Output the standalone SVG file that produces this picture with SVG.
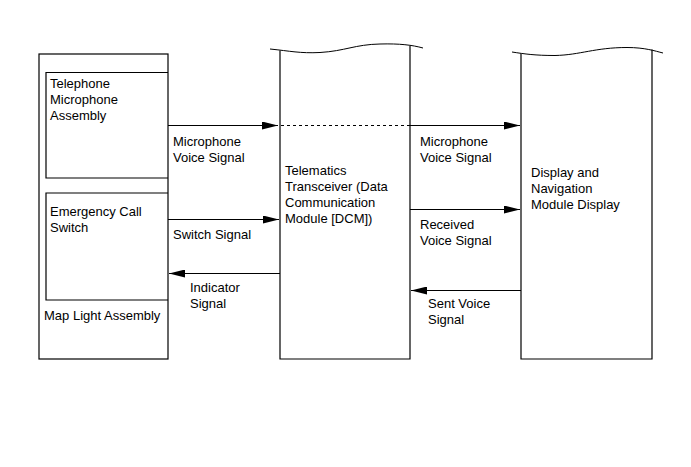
<svg xmlns="http://www.w3.org/2000/svg" width="691" height="467" viewBox="0 0 691 467">
<style>
.b{fill:none;stroke:#000;stroke-width:1.2}
.w{fill:none;stroke:#000;stroke-width:1}
.l{fill:none;stroke:#000;stroke-width:1}
.d{fill:none;stroke:#000;stroke-width:1;stroke-dasharray:3,3}
text{font-family:"Liberation Sans",Arial,sans-serif;font-size:13px;fill:#000}
</style>
<defs>
<marker id="ah" viewBox="0 0 16 8" refX="16" refY="4" markerWidth="16" markerHeight="8" markerUnits="userSpaceOnUse" orient="auto">
<path d="M0,0 L16,4 L0,8 Z" fill="#000"/>
</marker>
</defs>
<rect width="691" height="467" fill="#fff"/>
<g id="map-light">
<rect class="b" x="39" y="54" width="129" height="305"/>
<text x="44" y="320">Map Light Assembly</text>
</g>
<g id="telephone-mic">
<path class="b" d="M168,72.5 H46 V178 H168"/>
<text x="50" y="88">Telephone</text>
<text x="50" y="104">Microphone</text>
<text x="50" y="120">Assembly</text>
</g>
<g id="emergency-switch">
<path class="b" d="M168,193 H46 V300 H168"/>
<text x="50" y="216">Emergency Call</text>
<text x="50" y="232">Switch</text>
</g>
<g id="dcm">
<path class="w" d="M270,49 C290,51 300,53.5 320,52.5 C345,51 355,44.5 380,44 C400,43.5 412,45 423,48"/>
<path class="b" d="M280,50.5 V359 H410 V45.5"/>
<text x="285" y="175">Telematics</text>
<text x="285" y="191">Transceiver (Data</text>
<text x="285" y="207">Communication</text>
<text x="285" y="223">Module [DCM])</text>
</g>
<g id="display">
<path class="w" d="M512,52 C525,54 535,55.5 555,55.5 C580,55 595,47.5 627,47.5 C645,47.5 655,51 663,53"/>
<path class="b" d="M521,53.5 V359 H652 V49.5"/>
<text x="531" y="177">Display and</text>
<text x="531" y="193">Navigation</text>
<text x="531" y="209">Module Display</text>
</g>
<g id="connectors">
<path class="l" d="M168,125.5 H278" marker-end="url(#ah)"/>
<path class="d" d="M281,125.5 H410"/>
<path class="l" d="M410,125.5 H520" marker-end="url(#ah)"/>
<path class="l" d="M168,219.5 H279" marker-end="url(#ah)"/>
<path class="l" d="M280,273.5 H169" marker-end="url(#ah)"/>
<path class="l" d="M410,209.5 H520" marker-end="url(#ah)"/>
<path class="l" d="M521,290.5 H411" marker-end="url(#ah)"/>
<text x="173" y="145.5">Microphone</text>
<text x="173" y="161.5">Voice Signal</text>
<text x="173" y="239">Switch Signal</text>
<text x="190" y="292">Indicator</text>
<text x="190" y="308">Signal</text>
<text x="420" y="145.5">Microphone</text>
<text x="420" y="161.5">Voice Signal</text>
<text x="420" y="229">Received</text>
<text x="420" y="245">Voice Signal</text>
<text x="428" y="308">Sent Voice</text>
<text x="428" y="324">Signal</text>
</g>
</svg>
